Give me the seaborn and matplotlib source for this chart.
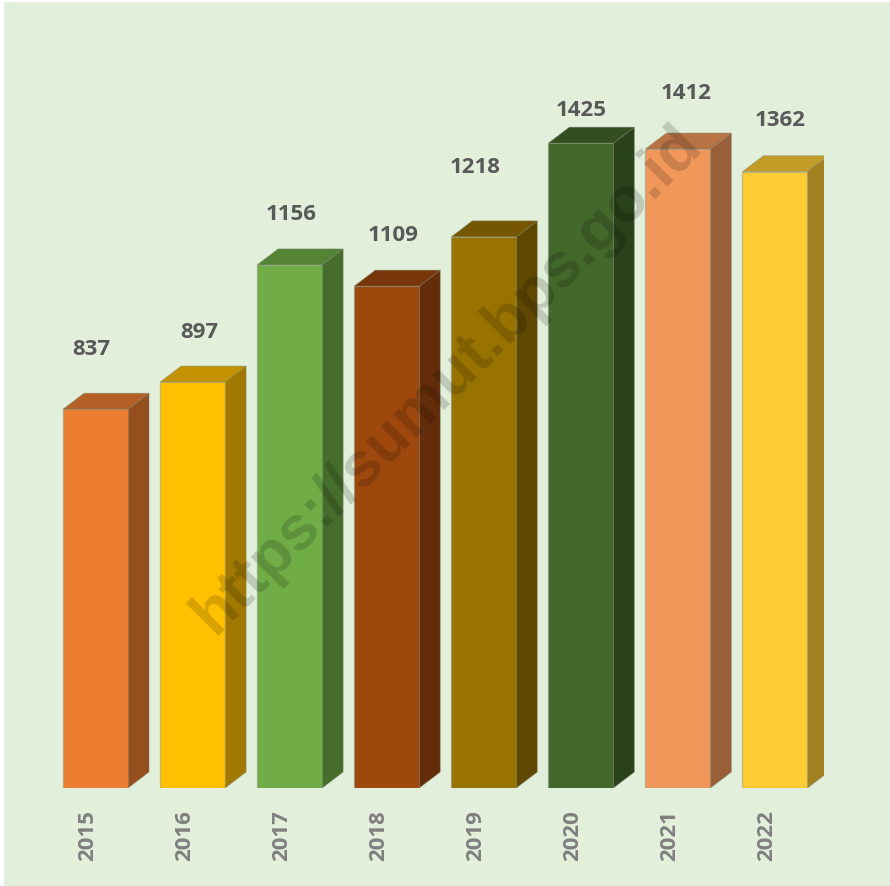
"""

Yearly bar chart with a fake 3D look, drawn on a seaborn barplot

"""
import pandas as pd
import seaborn as sns
import matplotlib.pyplot as plt
from matplotlib.colors import to_rgb
from matplotlib.patches import Polygon, Rectangle
from matplotlib.transforms import ScaledTranslation

years = ["2015", "2016", "2017", "2018", "2019", "2020", "2021", "2022"]
values = [837, 897, 1156, 1109, 1218, 1425, 1412, 1362]

front_colors = ["#ED7D31", "#FFC000", "#70AD47", "#9E480E",
                "#997300", "#43682B", "#F1975A", "#FFCD33"]

# label shift from the bar top, in pixels (x, y), the labels were moved by hand
label_shift = [(-4, 60), (7, 50), (2, 50), (6, 51),
               (-9, 69), (0, 33), (8, 56), (5, 51)]

W, H = 890, 886
BG = "#E2EFDA"
TEXT = "#595959"
TICK = "#7F7F7F"
EDGE = (0.45, 0.5, 0.42, 0.35)
DEPTH_X, DEPTH_Y = 21, 16  # px

sns.set_theme(style="white")
plt.rcParams["font.family"] = ["Open Sans", "DejaVu Sans"]

fig = plt.figure(figsize=(W / 100, H / 100), dpi=100, facecolor="white")

# Panel behind everything
fig.add_artist(Rectangle((4 / W, 0), (W - 4) / W, (H - 2) / H,
                         transform=fig.transFigure, facecolor=BG,
                         edgecolor="none", zorder=-1))

# Axes placed so one category is 97.07 px and one unit is 0.4525 px
ax_left, ax_right = 47, 823.5
ax_bottom, ax_top = 788, 40
ax = fig.add_axes([ax_left / W, 1 - ax_bottom / H,
                   (ax_right - ax_left) / W, (ax_bottom - ax_top) / H])
ax.patch.set_alpha(0)

df = pd.DataFrame({"year": years, "value": values})
sns.barplot(data=df, x="year", y="value", hue="year", palette=front_colors,
            legend=False, width=0.67, saturation=1, ax=ax, zorder=3,
            edgecolor=EDGE, linewidth=1)

ax.set_xlim(-0.5, 7.5)
ax.set_ylim(0, (ax_bottom - ax_top) / 0.4525)
ax.set_xlabel("")
ax.set_ylabel("")
ax.set_yticks([])
sns.despine(ax=ax, left=True, bottom=True)
ax.tick_params(axis="x", length=0, pad=16)
plt.setp(ax.get_xticklabels(), rotation=90, fontsize=16, fontweight="bold",
         color=TICK, ha="center", va="top")
for label in ax.get_xticklabels():
    label.set_transform(label.get_transform()
                        + ScaledTranslation(-8 / 100, 0, fig.dpi_scale_trans))

px_x = (ax_right - ax_left) / 8
px_y = 0.4525
dx = DEPTH_X / px_x
dy = DEPTH_Y / px_y


def shade(color, factor):
    return tuple(c * factor for c in to_rgb(color))


#####################################################################
# Side and top faces, taken from the bars seaborn drew
#####################################################################
for bar, color, val, (sx, sy) in zip(list(ax.patches), front_colors, values, label_shift):
    x0, x1 = bar.get_x(), bar.get_x() + bar.get_width()
    top = bar.get_height()
    side = [(x1, 0), (x1 + dx, dy), (x1 + dx, top + dy), (x1, top)]
    roof = [(x0, top), (x0 + dx, top + dy), (x1 + dx, top + dy), (x1, top)]
    ax.add_patch(Polygon(side, closed=True, facecolor=shade(color, 0.63),
                         edgecolor=EDGE, linewidth=0.8, zorder=2))
    ax.add_patch(Polygon(roof, closed=True, facecolor=shade(color, 0.76),
                         edgecolor=EDGE, linewidth=0.8, zorder=2))
    ax.annotate(str(val), xy=((x0 + x1) / 2, top), xytext=(sx * 0.72, sy * 0.72),
                textcoords="offset points", ha="center", va="center",
                fontsize=16, fontweight="bold", color=TEXT, zorder=5)

# Watermark over the bars
fig.text(447 / W, 1 - 380 / H, "https://sumut.bps.go.id", rotation=45,
         rotation_mode="anchor", ha="center", va="center", fontsize=45,
         fontweight="bold", color="#000000", alpha=0.16,
         family=["Liberation Sans", "DejaVu Sans"], zorder=10)

fig.savefig("out.png", dpi=100)
plt.close()
